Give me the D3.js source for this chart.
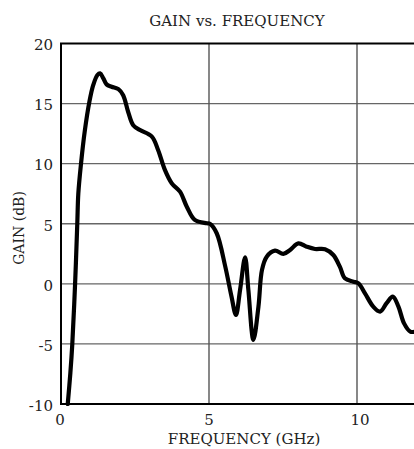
<!DOCTYPE html>
<html>
<head>
<meta charset="utf-8">
<script src="https://cdn.jsdelivr.net/npm/d3@7"></script>
<style>
  html, body { margin: 0; padding: 0; background: #fff; }
  svg { display: block; }
</style>
</head>
<body>
<div id="vis"></div>
<script>
// curve (GHz, dB)
const freq = [0.228, 0.317, 0.382, 0.476, 0.55, 0.585, 0.676, 0.80, 0.96, 1.09, 1.23, 1.32, 1.43, 1.54, 1.71, 1.94, 2.10, 2.27, 2.44, 2.67, 3.07, 3.28, 3.51, 3.74, 4.02, 4.25, 4.52, 4.92, 5.03, 5.26, 5.55, 5.76, 5.91, 6.05, 6.22, 6.33, 6.50, 6.67, 6.79, 6.95, 7.23, 7.51, 7.74, 8.02, 8.30, 8.58, 8.92, 9.20, 9.42, 9.59, 9.88, 10.05, 10.27, 10.55, 10.78, 11.00, 11.21, 11.40, 11.59, 11.80, 12.0];
const gain = [-10, -7.4, -5, 0, 5, 7.5, 10, 12.66, 15.16, 16.55, 17.38, 17.52, 17.1, 16.6, 16.4, 16.2, 15.7, 14.3, 13.2, 12.8, 12.25, 11.14, 9.48, 8.37, 7.67, 6.42, 5.32, 5.04, 5.0, 4.21, 1.43, -1.06, -2.59, -0.5, 2.21, -0.5, -4.67, -1.9, 1.16, 2.26, 2.76, 2.49, 2.82, 3.37, 3.09, 2.9, 2.88, 2.40, 1.43, 0.46, 0.18, 0.04, -0.79, -1.9, -2.31, -1.61, -1.06, -1.9, -3.29, -3.98, -3.95];

const xTicks = [0, 5, 10];
const yTicks = [-10, -5, 0, 5, 10, 15, 20];

const title = "GAIN vs. FREQUENCY";
const xLabel = "FREQUENCY (GHz)";
const yLabel = "GAIN (dB)";

const W = 414, H = 449;
const margin = { top: 43.5, left: 61, bottom: 45 };
const plotH = H - margin.top - margin.bottom;
const pxPerGHz = 29.6;
const FONT = "'DejaVu Serif', serif";

const svg = d3.select("#vis").append("svg")
  .attr("width", W)
  .attr("height", H);

// x runs a little past the window so the frame's right side is cut off
const xMax = 12.2;
const x = d3.scaleLinear().domain([0, xMax]).range([margin.left, margin.left + xMax * pxPerGHz]);
const y = d3.scaleLinear().domain([-10, 20]).range([margin.top + plotH, margin.top]);

// grid
svg.append("g")
  .selectAll("line")
  .data(yTicks.filter(d => d > -10 && d < 20))
  .join("line")
  .attr("x1", x(0)).attr("x2", x(xMax))
  .attr("y1", d => y(d)).attr("y2", d => y(d))
  .attr("stroke", "#666").attr("stroke-width", 1.4);

svg.append("g")
  .selectAll("line")
  .data(xTicks.filter(d => d > 0))
  .join("line")
  .attr("x1", d => x(d)).attr("x2", d => x(d))
  .attr("y1", y(20)).attr("y2", y(-10))
  .attr("stroke", "#555").attr("stroke-width", 1.4);

// frame
svg.append("rect")
  .attr("x", x(0)).attr("y", y(20))
  .attr("width", x(xMax) - x(0)).attr("height", y(-10) - y(20))
  .attr("fill", "none")
  .attr("stroke", "#000").attr("stroke-width", 2);

// curve
const pts = freq.map((f, i) => [f, gain[i]]);
svg.append("path")
  .datum(pts)
  .attr("fill", "none")
  .attr("stroke", "#000")
  .attr("stroke-width", 4.2)
  .attr("stroke-linejoin", "round")
  .attr("stroke-linecap", "round")
  .attr("d", d3.line()
    .x(d => x(d[0]))
    .y(d => y(d[1]))
    .curve(d3.curveCatmullRom.alpha(0.5)));

// tick labels
svg.append("g")
  .selectAll("text")
  .data(yTicks)
  .join("text")
  .attr("x", x(0) - 8)
  .attr("y", d => y(d) + 1.5)
  .attr("dy", "0.35em")
  .attr("text-anchor", "end")
  .style("font-family", FONT)
  .style("font-size", "15px")
  .style("fill", "#222")
  .text(d => d);

svg.append("g")
  .selectAll("text")
  .data(xTicks)
  .join("text")
  .attr("x", d => x(d) + (d >= 10 ? 3 : d === 0 ? -1 : 0))
  .attr("y", y(-10) + 21)
  .attr("text-anchor", "middle")
  .style("font-family", FONT)
  .style("font-size", "15px")
  .style("fill", "#222")
  .text(d => d);

// titles
svg.append("text")
  .attr("x", 237)
  .attr("y", 25.5)
  .attr("text-anchor", "middle")
  .style("font-family", FONT)
  .style("font-size", "15px")
  .style("fill", "#222")
  .text(title);

svg.append("text")
  .attr("x", 244)
  .attr("y", 444)
  .attr("text-anchor", "middle")
  .style("font-family", FONT)
  .style("font-size", "15px")
  .style("fill", "#222")
  .text(xLabel);

svg.append("text")
  .attr("transform", "translate(24,228) rotate(-90)")
  .attr("text-anchor", "middle")
  .style("font-family", FONT)
  .style("font-size", "14px")
  .style("fill", "#222")
  .text(yLabel);
</script>
</body>
</html>
